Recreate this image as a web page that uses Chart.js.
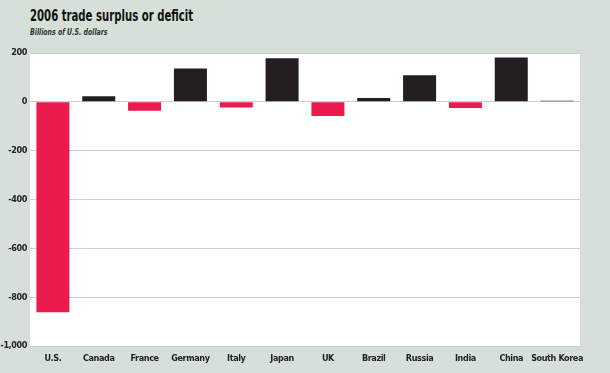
<!DOCTYPE html>
<html>
<head>
<meta charset="utf-8">
<script src="https://cdn.jsdelivr.net/npm/chart.js@4/dist/chart.umd.min.js"></script>
<style>
  html, body { margin: 0; padding: 0; background: #d6e0d8; }
  #wrap { position: relative; width: 610px; height: 373px; overflow: hidden; }
  #title { position: absolute; left: 30px; top: 7px; font: bold 15px "DejaVu Sans Condensed", sans-serif; color: #111; white-space: nowrap; transform: scaleX(0.75); transform-origin: left top; }
  #sub { position: absolute; left: 30px; top: 27px; font: italic bold 9px "DejaVu Sans Condensed", sans-serif; color: #333; white-space: nowrap; transform: scaleX(0.77); transform-origin: left top; }
  canvas { position: absolute; left: 0; top: 0; }
</style>
</head>
<body>
<div id="wrap">
  <div id="title">2006 trade surplus or deficit</div>
  <div id="sub">Billions of U.S. dollars</div>
  <canvas id="chart" width="610" height="373"></canvas>
</div>
<script>
const countries = ['U.S.', 'Canada', 'France', 'Germany', 'Italy', 'Japan', 'UK', 'Brazil', 'Russia', 'India', 'China', 'South Korea'];
const balance = [-862, 23, -37, 137, -23, 178, -58, 16, 109, -25, 182, 2];
const yTicks = [200, 0, -200, -400, -600, -800, -1000];

const RED = '#ec1b4e';
const BLACK = '#231f20';
const labelFont = { family: '"DejaVu Sans Condensed", sans-serif', size: 9, weight: 'bold' };

// fond blanc de la zone de tracé + texte un peu resserré
const plotBg = {
    id: 'plotBg',
    beforeDraw(c) {
        const a = c.chartArea;
        c.ctx.save();
        c.ctx.fillStyle = '#ffffff';
        c.ctx.fillRect(a.left, a.top, a.right - a.left, a.bottom - a.top);
        c.ctx.restore();
        c.ctx.letterSpacing = '-0.4px';
    }
};

new Chart(document.getElementById('chart'), {
    type: 'bar',
    data: {
        labels: countries,
        datasets: [{
            data: balance,
            backgroundColor: balance.map(v => v < 0 ? RED : BLACK),
            categoryPercentage: 0.72,
            barPercentage: 1,
            minBarLength: 1
        }]
    },
    options: {
        responsive: false,
        animation: false,
        layout: { padding: { top: 53, right: 30, bottom: 0, left: 0 } },
        plugins: { legend: { display: false }, tooltip: { enabled: false } },
        scales: {
            x: {
                grid: { display: false, drawTicks: false },
                border: { display: false },
                ticks: { color: '#222', font: labelFont, padding: 7, maxRotation: 0, autoSkip: false },
                afterFit(s) { s.height = 27; }
            },
            y: {
                min: -1000,
                max: 200,
                afterBuildTicks(s) { s.ticks = yTicks.map(v => ({ value: v })); },
                grid: { color: '#cfcfcf', lineWidth: 1, drawTicks: false },
                border: { display: false },
                ticks: { color: '#222', font: labelFont, padding: 3 },
                afterFit(s) { s.width = 30; }
            }
        }
    },
    plugins: [plotBg]
});
</script>
</body>
</html>
